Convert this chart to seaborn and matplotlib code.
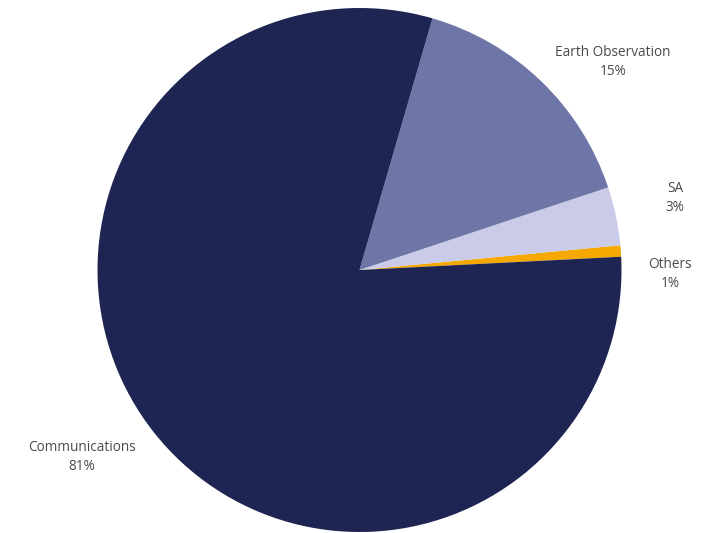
import matplotlib
matplotlib.use("Agg")
import matplotlib.pyplot as plt
import seaborn as sns

# Data (counter-clockwise order starting just above 3 o'clock)
categories = ["Others", "SA", "Earth Observation", "Communications"]
values = [0.7, 3.6, 15.4, 80.3]
pct_labels = ["1%", "3%", "15%", "81%"]
colors = ["#f5a800", "#c9cbe8", "#6e76a8", "#1f2552"]

sns.set_theme(style="white")
plt.rcParams["font.family"] = ["Open Sans", "DejaVu Sans"]

W, H = 702, 533
fig = plt.figure(figsize=(W / 100, H / 100), dpi=100)
cx, cy, r = 359.5, 270, 262
ax = fig.add_axes([(cx - r) / W, (H - cy - r) / H, 2 * r / W, 2 * r / H])
ax.pie(values, colors=colors, startangle=2.9, counterclock=True,
       wedgeprops=dict(linewidth=0))
ax.set_xlim(-1, 1)
ax.set_ylim(-1, 1)
ax.set_aspect("equal")
ax.axis("off")

label_pos = {
    "Others": (670, 274),
    "SA": (675, 198),
    "Earth Observation": (613, 62),
    "Communications": (82, 457),
}
for cat, pct in zip(categories, pct_labels):
    px, py = label_pos[cat]
    ax.text((px - cx) / r, (cy - py) / r, f"{cat}\n{pct}", ha="center", va="center",
            fontsize=9.8, color="#4a4a4a", linespacing=1.4, clip_on=False)

fig.savefig("out.png", dpi=100)
